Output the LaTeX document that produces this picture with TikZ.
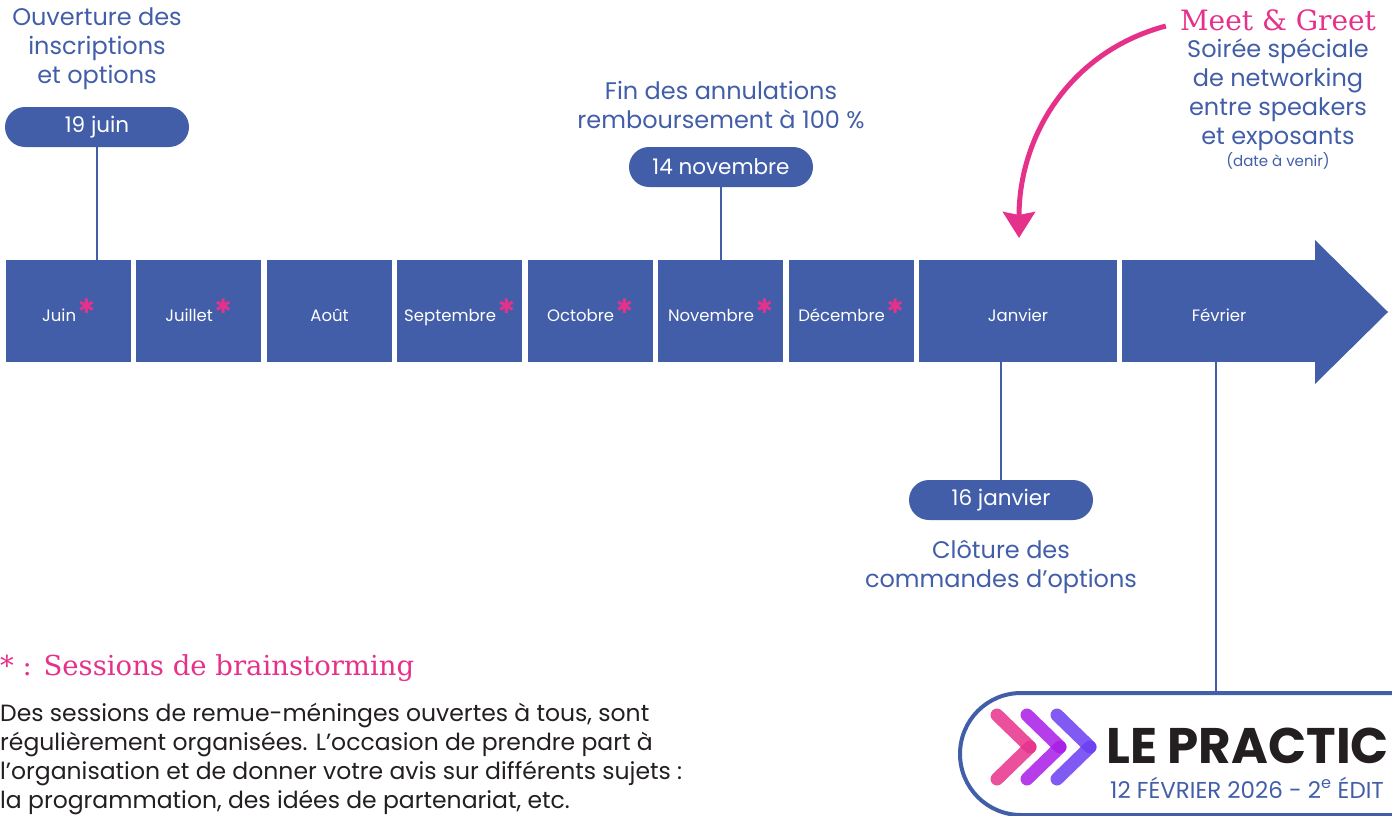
\documentclass[tikz,border=0pt]{standalone}
\usepackage{fontspec}
\setmainfont{Poppins}
\newfontfamily\slabfont{DejaVu Serif}
\newfontfamily\dejavu{DejaVu Sans}
\usetikzlibrary{arrows.meta}
\definecolor{tlblue}{HTML}{425EA8}
\definecolor{tlpink}{HTML}{E6318A}
\definecolor{tlviolet}{HTML}{A81CE6}
\definecolor{tlindigo}{HTML}{6A3DF0}
\definecolor{tlink}{HTML}{231F20}
\newcommand{\brainmark}{\hspace{2pt}\raisebox{7.5pt}{\textcolor{tlpink}{\dejavu\fontsize{20}{20}\selectfont ✱}}}

\begin{document}
\begin{tikzpicture}[x=1pt,y=-1pt,
    mnode/.style={fill=tlblue, minimum width=125pt, minimum height=102pt, inner sep=0pt, text=white, text height=20pt, text depth=0pt, font=\fontsize{16.5}{18}\selectfont},
    pnode/.style={fill=tlblue, rounded corners=20pt, minimum width=184pt, minimum height=40pt, inner sep=0pt, text=white, font=\fontsize{21.5}{24}\selectfont},
    tnode/.style={text=tlblue, align=center, inner sep=0pt, font=\fontsize{24}{29}\selectfont},
    link/.style={draw=tlblue, line width=2.5pt}]
  \useasboundingbox (0,0) rectangle (1392,816);

  \node[mnode] (jun) at (68.5,311) {Juin\brainmark};
  \node[mnode] (jul) at (198.5,311) {Juillet\brainmark};
  \node[mnode] (aou) at (329.5,311) {Août};
  \node[mnode] (sep) at (459.5,311) {Septembre\brainmark};
  \node[mnode] (oct) at (590,311) {Octobre\brainmark};
  \node[mnode] (nov) at (720.5,311) {Novembre\brainmark};
  \node[mnode] (dec) at (851,311) {Décembre\brainmark};
  \node[mnode, minimum width=198pt] (jan) at (1018,311) {Janvier};
  \node[mnode, minimum width=194pt] (feb) at (1219,311) {Février};
  \fill[tlblue] (1315,240) -- (1388,312) -- (1315,384) -- cycle;

  \node[pnode] (p19) at (97,127) {19 juin};
  \node[tnode] (ouv) at (97,49) {Ouverture des\\inscriptions\\et options};
  \node[pnode] (p14) at (721,167) {14 novembre};
  \node[tnode] (fin) at (721,105) {Fin des annulations\\remboursement à 100 \%};
  \node[pnode] (p16) at (1001,500) {16 janvier};
  \node[tnode] (clo) at (1001,567) {Clôture des\\commandes d’options};

  \draw[link] (p19.south) -- (p19.south |- jun.north);
  \draw[link] (p14.south) -- (p14.south |- nov.north);
  \draw[link] (p16.north) -- (p16.north |- jan.south);

  \node[text=tlpink, inner sep=0pt, font=\slabfont\fontsize{28}{28}\selectfont] (mg) at (1278,20) {Meet \& Greet};
  \node[tnode] (soi) at (1278,95) {Soirée spéciale\\de networking\\entre speakers\\et exposants};
  \node[text=tlblue, inner sep=0pt, font=\fontsize{15}{15}\selectfont] (dav) at (1278,161) {(date à venir)};
  \coordinate (mgtip) at (1019,238);
  \draw[tlpink, line width=5pt, -{Stealth[width=32pt,length=26pt,inset=3pt]}] ([xshift=-14pt,yshift=-6pt]mg.west) to[out=195,in=90] (mgtip);

  \node[draw=tlblue, line width=4pt, rounded corners=61pt, minimum width=560pt, minimum height=122pt, inner sep=0pt] (logo) at (1240,754) {};
  \draw[link] ([xshift=-3pt]feb.south) -- ([xshift=-3pt]feb.south |- logo.north);
  \foreach \dx/\col in {0/tlpink, 30/tlviolet, 60/tlindigo} {
    \draw[\col, line width=13pt, line cap=round, opacity=0.85] (997+\dx,715) -- (1030+\dx,747);
    \draw[\col, line width=13pt, line cap=round, opacity=0.85] (1030+\dx,747) -- (997+\dx,779);
  }
  \node[anchor=base west, inner sep=0pt, text=tlink, font=\fontsize{50}{50}\selectfont\bfseries] (lp) at (1106,763) {LE PRACTIC};
  \node[anchor=base west, inner sep=0pt, text=tlblue, font=\fontsize{23}{23}\selectfont] (edi) at (1110,798) {12 FÉVRIER 2026 - 2\textsuperscript{e} ÉDIT};

  \node[anchor=base west, inner sep=0pt, text=tlpink, font=\slabfont\fontsize{27.5}{28}\selectfont] (bst) at (0,675) {* : Sessions de brainstorming};
  \node[anchor=north west, align=left, inner sep=0pt, text=tlink, font=\fontsize{23.5}{29}\selectfont] (txt) at (0,703) {Des sessions de remue-méninges ouvertes à tous, sont\\régulièrement organisées. L’occasion de prendre part à\\l’organisation et de donner votre avis sur différents sujets :\\la programmation, des idées de partenariat, etc.};
\end{tikzpicture}
\end{document}
